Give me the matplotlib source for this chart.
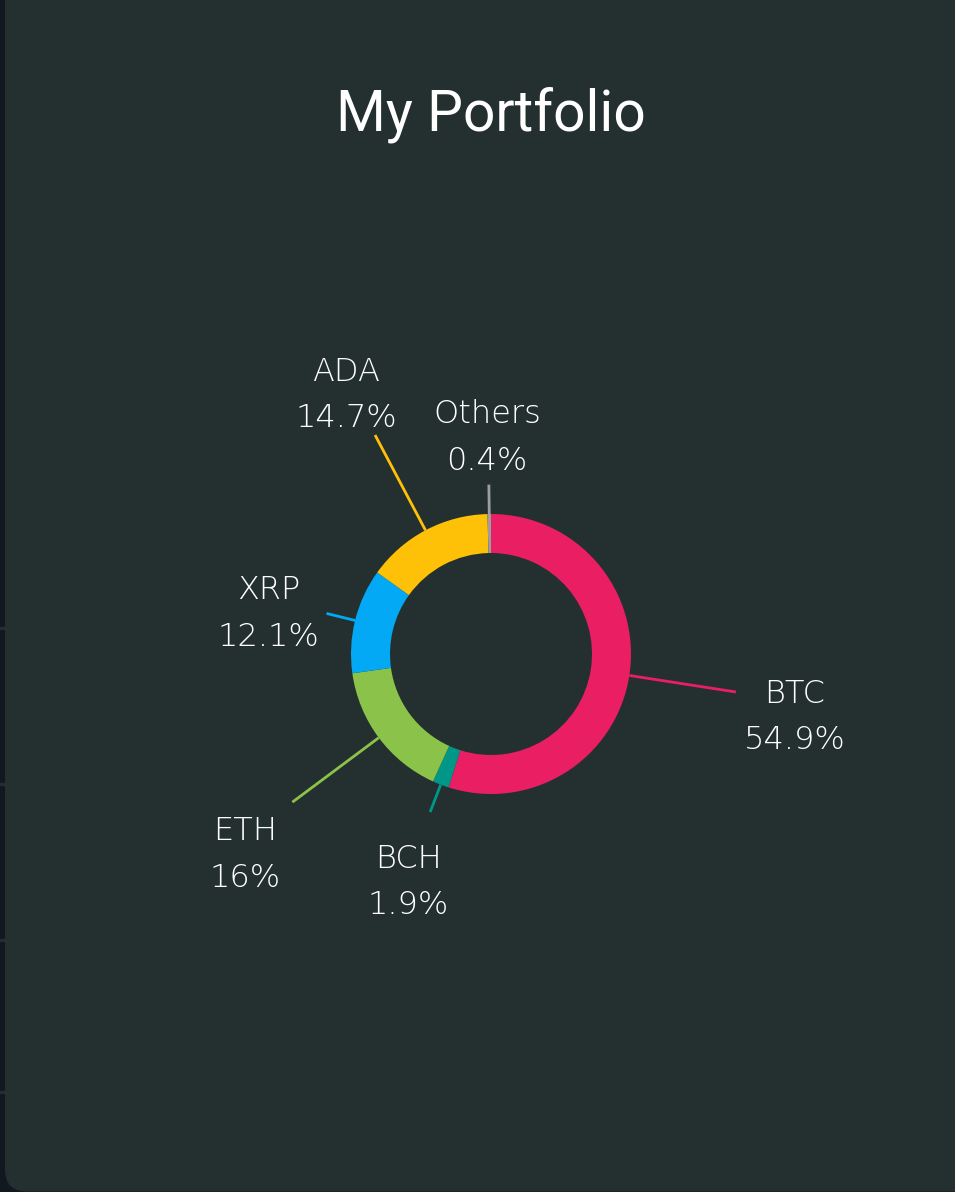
import matplotlib
matplotlib.use("Agg")
import matplotlib.pyplot as plt
from matplotlib.patches import FancyBboxPatch, Rectangle
import numpy as np

# portfolio shares (percent), clockwise from 12 o'clock
coins = ["BTC", "BCH", "ETH", "XRP", "ADA", "Others"]
shares = [54.9, 1.9, 16, 12.1, 14.7, 0.4]
colors = ["#E91E63", "#009688", "#8BC34A", "#03A9F4", "#FFC107", "#9E9E9E"]

# leader line length (x radius) and label nudge in pixels
leader = [1.77, 1.21, 1.77, 1.21, 1.77, 1.21]
nudge = [(59, -25), (-22, -70), (-47, -52), (-58, 0), (-29, 40), (-2, 47)]

W, H = 955, 1192
bg = "#243030"

fig = plt.figure(figsize=(W / 100, H / 100), dpi=100)
fig.patch.set_facecolor("#111820")
ax = fig.add_axes([0, 0, 1, 1])

# side strip lines + panel
for y in [628, 784, 940, 1092]:
    ax.add_patch(Rectangle((0, H - y - 1), 6, 2, color="#262c36", zorder=0))
ax.add_patch(FancyBboxPatch((5, 0.5), 1100, 1400,
                            boxstyle="round,pad=0,rounding_size=22",
                            fc=bg, ec="none", zorder=1))

ax.text(491, H - 115, "My Portfolio", color="white", fontsize=41,
        family="Roboto", ha="center", va="center", zorder=3)

cx, cy, R = 491, H - 654, 140
wedges, _ = ax.pie(shares, colors=colors, startangle=90, counterclock=False,
                   center=(cx, cy), radius=R, frame=True,
                   wedgeprops=dict(width=39, linewidth=0))
for w in wedges:
    w.set_zorder(2)
ax.set_xlim(0, W)
ax.set_ylim(0, H)
ax.axis("off")

for w, name, pct, col, L, (dx, dy) in zip(wedges, coins, shares, colors, leader, nudge):
    a = np.deg2rad((w.theta1 + w.theta2) / 2)
    x0, y0 = cx + R * np.cos(a), cy + R * np.sin(a)
    x1, y1 = cx + L * R * np.cos(a), cy + L * R * np.sin(a)
    ax.plot([x0, x1], [y0, y1], color=col, lw=2, zorder=2,
            solid_capstyle="butt")
    ax.annotate(f"{name}\n{pct:g}%", xy=(x1, y1), xytext=(dx, dy),
                textcoords="offset pixels", ha="center", va="center",
                color="white", fontsize=23, family="DejaVu Sans",
                weight="light", linespacing=1.7, zorder=3)

fig.savefig("out.png", dpi=100, facecolor=fig.get_facecolor())
